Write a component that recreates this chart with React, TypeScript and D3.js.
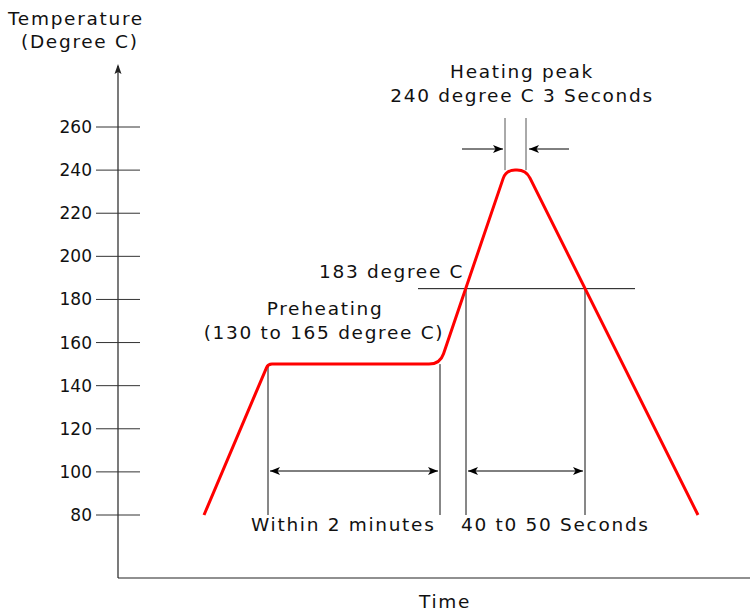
import React, { useEffect, useRef } from 'react';
import * as d3 from 'd3';

// reflow profile (time in arbitrary units, temperature in degree C)
const profileTime = [43, 75, 161, 194, 204, 290];
const profileTemp = [80, 150, 150, 240, 240, 80];
const cornerRadius = [0, 4, 11, 9, 9, 0];

const tempTicks = [80, 100, 120, 140, 160, 180, 200, 220, 240, 260];

const meltTemp = 185; // where the 183 degree C line sits in the picture
const preheatSpan = [75, 161];
const reflowSpan = [174, 233.5];
const peakSpan = [193.5, 204];

const W = 750;
const H = 613;
const FONT = "'DejaVu Sans', Verdana, sans-serif";

function roundedPath(pts: [number, number][], radii: number[]) {
  let d = `M${pts[0][0]},${pts[0][1]}`;
  for (let i = 1; i < pts.length - 1; i++) {
    const [px, py] = pts[i - 1];
    const [cx, cy] = pts[i];
    const [nx, ny] = pts[i + 1];
    const r = radii[i];
    const l1 = Math.hypot(cx - px, cy - py);
    const l2 = Math.hypot(nx - cx, ny - cy);
    const ax = cx - ((cx - px) / l1) * r;
    const ay = cy - ((cy - py) / l1) * r;
    const bx = cx + ((nx - cx) / l2) * r;
    const by = cy + ((ny - cy) / l2) * r;
    d += `L${ax},${ay}Q${cx},${cy} ${bx},${by}`;
  }
  const last = pts[pts.length - 1];
  return d + `L${last[0]},${last[1]}`;
}

export default function App() {
  const ref = useRef<SVGSVGElement>(null);

  useEffect(() => {
    if (!ref.current) return;
    const svg = d3.select(ref.current);
    svg.selectAll('*').remove();

    const x = d3.scaleLinear().domain([0, 315]).range([118, 748]);
    const y = d3.scaleLinear().domain([80, 260]).range([515, 127]);
    const originY = 578;
    const axisTop = 64;

    const defs = svg.append('defs');
    defs.append('marker')
      .attr('id', 'ah')
      .attr('viewBox', '0 0 10 8')
      .attr('refX', 10)
      .attr('refY', 4)
      .attr('markerWidth', 10)
      .attr('markerHeight', 8)
      .attr('markerUnits', 'userSpaceOnUse')
      .attr('orient', 'auto-start-reverse')
      .append('path')
      .attr('d', 'M0,0 L10,4 L0,8 L2.5,4 Z')
      .attr('fill', '#000');

    // 1) AXES
    svg.append('line')
      .attr('x1', x(0)).attr('x2', W)
      .attr('y1', originY).attr('y2', originY)
      .attr('stroke', '#222').attr('stroke-width', 1.2);
    svg.append('line')
      .attr('x1', x(0)).attr('x2', x(0))
      .attr('y1', originY).attr('y2', axisTop + 2)
      .attr('stroke', '#222').attr('stroke-width', 1.2);
    svg.append('path')
      .attr('d', `M${x(0)},${axisTop} L${x(0) + 3.5},${axisTop + 10} L${x(0)},${axisTop + 8} L${x(0) - 3.5},${axisTop + 10} Z`)
      .attr('fill', '#222');

    const ticks = svg.append('g');
    ticks.selectAll('line')
      .data(tempTicks)
      .enter()
      .append('line')
      .attr('x1', x(0) - 22).attr('x2', x(0) + 22)
      .attr('y1', d => y(d)).attr('y2', d => y(d))
      .attr('stroke', '#333').attr('stroke-width', 1);
    ticks.selectAll('text')
      .data(tempTicks)
      .enter()
      .append('text')
      .text(d => d)
      .attr('x', x(0) - 26)
      .attr('y', d => y(d) + 6)
      .attr('text-anchor', 'end')
      .attr('font-family', FONT)
      .attr('font-size', 17)
      .attr('fill', '#111');

    // 2) GUIDE LINES
    const guides = svg.append('g').attr('stroke', '#111').attr('stroke-width', 1);
    guides.append('line')
      .attr('x1', 418).attr('x2', 635)
      .attr('y1', y(meltTemp)).attr('y2', y(meltTemp));
    [preheatSpan[0], preheatSpan[1]].forEach(t => {
      guides.append('line')
        .attr('x1', x(t)).attr('x2', x(t))
        .attr('y1', y(150)).attr('y2', y(80));
    });
    [reflowSpan[0], reflowSpan[1]].forEach(t => {
      guides.append('line')
        .attr('x1', x(t)).attr('x2', x(t))
        .attr('y1', y(meltTemp)).attr('y2', y(80));
    });
    peakSpan.forEach(t => {
      guides.append('line')
        .attr('x1', x(t)).attr('x2', x(t))
        .attr('y1', 118).attr('y2', y(240))
        .attr('stroke', '#555');
    });

    // 3) DIMENSION ARROWS
    const arrows = svg.append('g').attr('stroke', '#000').attr('stroke-width', 1);
    const arrowY = 471;
    [preheatSpan, reflowSpan].forEach(span => {
      arrows.append('line')
        .attr('x1', x(span[0]) + 2).attr('x2', x(span[1]) - 2)
        .attr('y1', arrowY).attr('y2', arrowY)
        .attr('marker-start', 'url(#ah)')
        .attr('marker-end', 'url(#ah)');
    });
    const peakArrowY = 149;
    arrows.append('line')
      .attr('x1', x(peakSpan[0]) - 43).attr('x2', x(peakSpan[0]) - 2)
      .attr('y1', peakArrowY).attr('y2', peakArrowY)
      .attr('marker-end', 'url(#ah)');
    arrows.append('line')
      .attr('x1', x(peakSpan[1]) + 43).attr('x2', x(peakSpan[1]) + 3)
      .attr('y1', peakArrowY).attr('y2', peakArrowY)
      .attr('marker-end', 'url(#ah)');

    // 4) PROFILE CURVE
    const pts = profileTime.map((t, i) => [x(t), y(profileTemp[i])] as [number, number]);
    svg.append('path')
      .attr('d', roundedPath(pts, cornerRadius))
      .attr('fill', 'none')
      .attr('stroke', '#ff0000')
      .attr('stroke-width', 3)
      .attr('stroke-linejoin', 'round');

    // 5) LABELS
    const labels = [
      { text: 'Temperature', x: 8, y: 25, anchor: 'start' },
      { text: '(Degree C)', x: 21, y: 48, anchor: 'start' },
      { text: 'Heating peak', x: 522, y: 78, anchor: 'middle' },
      { text: '240 degree C 3 Seconds', x: 522, y: 102, anchor: 'middle' },
      { text: '183 degree C', x: 319, y: 278, anchor: 'start' },
      { text: 'Preheating', x: 325, y: 315, anchor: 'middle' },
      { text: '(130 to 165 degree C)', x: 324, y: 339, anchor: 'middle' },
      { text: 'Within 2 minutes', x: 251, y: 531, anchor: 'start' },
      { text: '40 t0 50 Seconds', x: 461, y: 531, anchor: 'start' },
      { text: 'Time', x: 445, y: 608, anchor: 'middle' },
    ];
    svg.append('g')
      .selectAll('text')
      .data(labels)
      .enter()
      .append('text')
      .text(d => d.text)
      .attr('x', d => d.x)
      .attr('y', d => d.y)
      .attr('text-anchor', d => d.anchor)
      .attr('font-family', FONT)
      .attr('font-size', 18.5)
      .attr('letter-spacing', 1.7)
      .attr('fill', '#111');
  }, []);

  return (
    <svg
      ref={ref}
      width={W}
      height={H}
      style={{ position: 'absolute', left: 0, top: 0, background: '#fff' }}
    />
  );
}
